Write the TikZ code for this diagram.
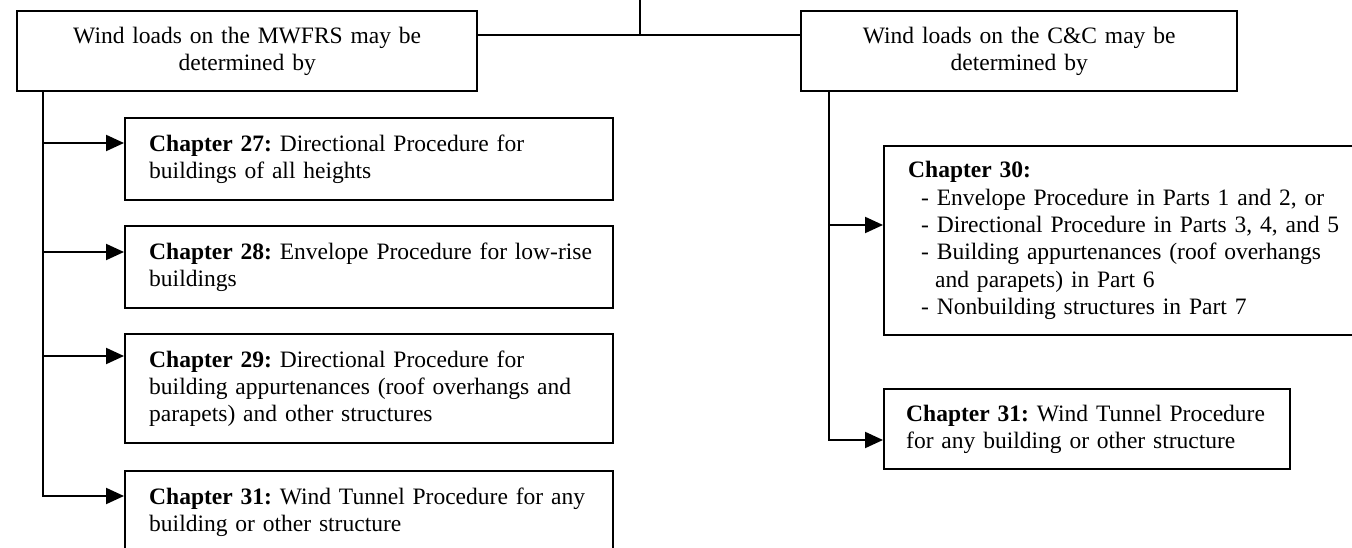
\documentclass[tikz,border=0pt]{standalone}
\usepackage{fontspec}
\setmainfont{Liberation Serif}
\usetikzlibrary{arrows.meta}
\newdimen\pxu \pxu=0.41667pt
\frenchspacing

\begin{document}
\begin{tikzpicture}[x=\pxu,y=-\pxu,
    head/.style={draw,line width=2.4\pxu,anchor=north west,inner xsep=10\pxu,inner ysep=0pt,
      minimum height=80\pxu,font=\fontsize{9.8}{11.4}\selectfont,align=center},
    box/.style={draw,line width=2.4\pxu,anchor=north west,inner xsep=24\pxu,inner ysep=0pt,
      font=\fontsize{9.8}{11.4}\selectfont,align=left},
    link/.style={line width=1.8\pxu},
    arr/.style={link,-{Triangle[length=7.5pt,width=6.7pt]}}]
  \useasboundingbox (0,0) rectangle (1352,548);
  \clip (0,0) rectangle (1352,548);

  \node[head,text width=440\pxu] (mwfrs) at (16,10) {Wind loads on the MWFRS may be\\determined by};
  \node[head,text width=416\pxu] (cc) at (800,10) {Wind loads on the C\&C may be\\determined by};

  \node[box,text width=440\pxu,minimum height=82\pxu] (ch27) at (124,117)
    {\textbf{Chapter 27:} Directional Procedure for\\buildings of all heights};
  \node[box,text width=440\pxu,minimum height=82\pxu] (ch28) at (124,225)
    {\mbox{\textbf{Chapter 28:} Envelope Procedure for low-rise}\\buildings};
  \node[box,text width=440\pxu,minimum height=109\pxu] (ch29) at (124,333)
    {\textbf{Chapter 29:} Directional Procedure for\\building appurtenances (roof overhangs and\\parapets) and other structures};
  \node[box,text width=440\pxu,minimum height=82\pxu] (ch31a) at (124,470)
    {\textbf{Chapter 31:} Wind Tunnel Procedure for any\\building or other structure};

  \node[box,text width=480\pxu,minimum height=189\pxu] (ch30) at (883,145)
    {\textbf{Chapter 30:}\\
     \hspace*{13\pxu}- Envelope Procedure in Parts 1 and 2, or\\
     \hspace*{13\pxu}- Directional Procedure in Parts 3, 4, and 5\\
     \hspace*{13\pxu}- Building appurtenances (roof overhangs\\
     \hspace*{27\pxu}and parapets) in Part 6\\
     \hspace*{13\pxu}- Nonbuilding structures in Part 7};
  \node[box,inner xsep=22\pxu,text width=362\pxu,minimum height=80\pxu] (ch31b) at (883,388)
    {\textbf{Chapter 31:} Wind Tunnel Procedure\\for any building or other structure};

  \coordinate (top) at (640,0);
  \coordinate (jn) at (640,35);
  \coordinate (trunkL) at (43,0);
  \coordinate (trunkR) at (829,0);
  \draw[link] (top) -- (jn);
  \draw[link] (mwfrs.east |- jn) -- (cc.west |- jn);

  \coordinate (a27) at ([yshift=-26\pxu]ch27.north west);
  \coordinate (a28) at ([yshift=-27\pxu]ch28.north west);
  \coordinate (a29) at ([yshift=-23\pxu]ch29.north west);
  \coordinate (a31a) at ([yshift=-26\pxu]ch31a.north west);
  \coordinate (a30) at ([yshift=-80\pxu]ch30.north west);
  \coordinate (a31b) at ([yshift=-52\pxu]ch31b.north west);

  \draw[arr] (mwfrs.south -| trunkL) |- (a31a);
  \foreach \c in {a27,a28,a29}
    \draw[arr] (\c -| trunkL) -- (\c);
  \draw[arr] (cc.south -| trunkR) |- (a31b);
  \draw[arr] (a30 -| trunkR) -- (a30);
\end{tikzpicture}
\end{document}
